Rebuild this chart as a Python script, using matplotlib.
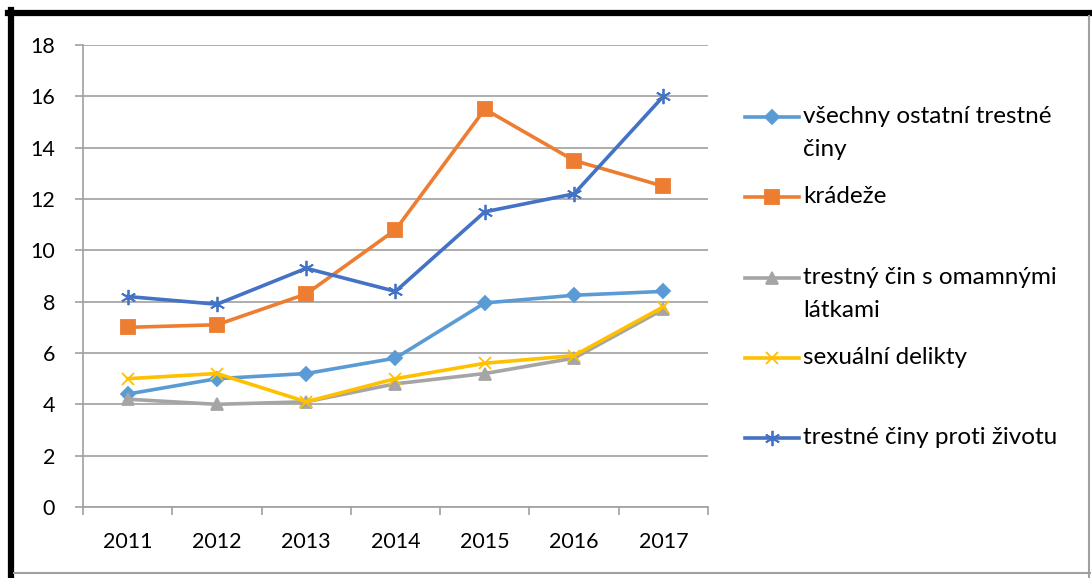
import matplotlib
matplotlib.use('Agg')
import matplotlib.pyplot as plt
from matplotlib.lines import Line2D

plt.rcParams['font.family'] = ['Lato', 'DejaVu Sans']

# Data
years = ['2011', '2012', '2013', '2014', '2015', '2016', '2017']
ostatni = [4.4, 5.0, 5.2, 5.8, 7.95, 8.25, 8.4]
kradeze = [7.0, 7.1, 8.3, 10.8, 15.5, 13.5, 12.5]
omamne = [4.2, 4.0, 4.1, 4.8, 5.2, 5.8, 7.7]
sexualni = [5.0, 5.2, 4.1, 5.0, 5.6, 5.9, 7.8]
zivot = [8.2, 7.9, 9.3, 8.4, 11.5, 12.2, 16.0]

labels = ['všechny ostatní trestné\nčiny', 'krádeže',
          'trestný čin s omamnými\nlátkami', 'sexuální delikty',
          'trestné činy proti životu']
series = [ostatni, kradeze, omamne, sexualni, zivot]
colors = ['#5B9BD5', '#ED7D31', '#A5A5A5', '#FFC000', '#4472C4']
markers = ['D', 's', '^', 'x', (6, 2, 0)]
msizes = [7, 10, 8, 9, 11]

fig = plt.figure(figsize=(10.92, 5.78), dpi=100)
ax = fig.add_axes([83/1092, 71/578, 625/1092, 462/578])

x = list(range(len(years)))
for vals, c, m, ms in zip(series, colors, markers, msizes):
    ax.plot(x, vals, color=c, lw=2.6, marker=m, ms=ms, mec=c, mfc=c,
            mew=1.3, solid_joinstyle='round')

ax.set_xlim(-0.5, 6.5)
ax.set_ylim(0, 18)
ax.set_yticks(range(0, 19, 2))
ax.set_xticks(x)
ax.set_xticklabels(years)
ax.set_xticks([i - 0.5 for i in range(8)], minor=True)
ax.grid(axis='y', color='#a0a0a0', lw=1.2)
ax.set_axisbelow(True)
for s in ['top', 'right']:
    ax.spines[s].set_visible(False)
for s in ['left', 'bottom']:
    ax.spines[s].set_color('#a0a0a0')
    ax.spines[s].set_linewidth(1.2)
ax.tick_params(axis='y', length=6, color='#a0a0a0', width=1.2, pad=14, labelsize=15.5)
ax.tick_params(axis='x', which='major', length=0, pad=18, labelsize=15.5)
ax.tick_params(axis='x', which='minor', length=6, color='#a0a0a0', width=1.2)

# legend drawn by hand so the marker sits on the first text line
leg_y = [117, 197, 278, 358, 438]
for lab, c, m, ms, yy in zip(labels, colors, markers, msizes, leg_y):
    yf = 1 - yy / 578
    fig.add_artist(Line2D([745/1092, 799/1092], [yf, yf], color=c, lw=2.6,
                          transform=fig.transFigure))
    fig.add_artist(Line2D([772/1092], [yf], color=c, marker=m, ms=ms,
                          mec=c, mfc=c, mew=1.3, transform=fig.transFigure))
    for i, line in enumerate(lab.split('\n')):
        fig.text(803/1092, 1 - (yy + 6 + 33 * i) / 578, line, fontsize=17.5,
                 va='baseline', ha='left')

# outer frame
fig.add_artist(Line2D([8/1092, 1], [1 - 13/578] * 2, color='black', lw=4.5,
                      transform=fig.transFigure))
fig.add_artist(Line2D([11/1092] * 2, [0, 1 - 10/578], color='black', lw=4.5,
                      transform=fig.transFigure))
fig.add_artist(Line2D([1089/1092] * 2, [0, 1 - 16/578], color='#a0a0a0', lw=1.5,
                      transform=fig.transFigure))
fig.add_artist(Line2D([14/1092, 1090/1092], [1 - 573/578] * 2, color='#a0a0a0', lw=1.5,
                      transform=fig.transFigure))

fig.savefig('out.png', dpi=100)
